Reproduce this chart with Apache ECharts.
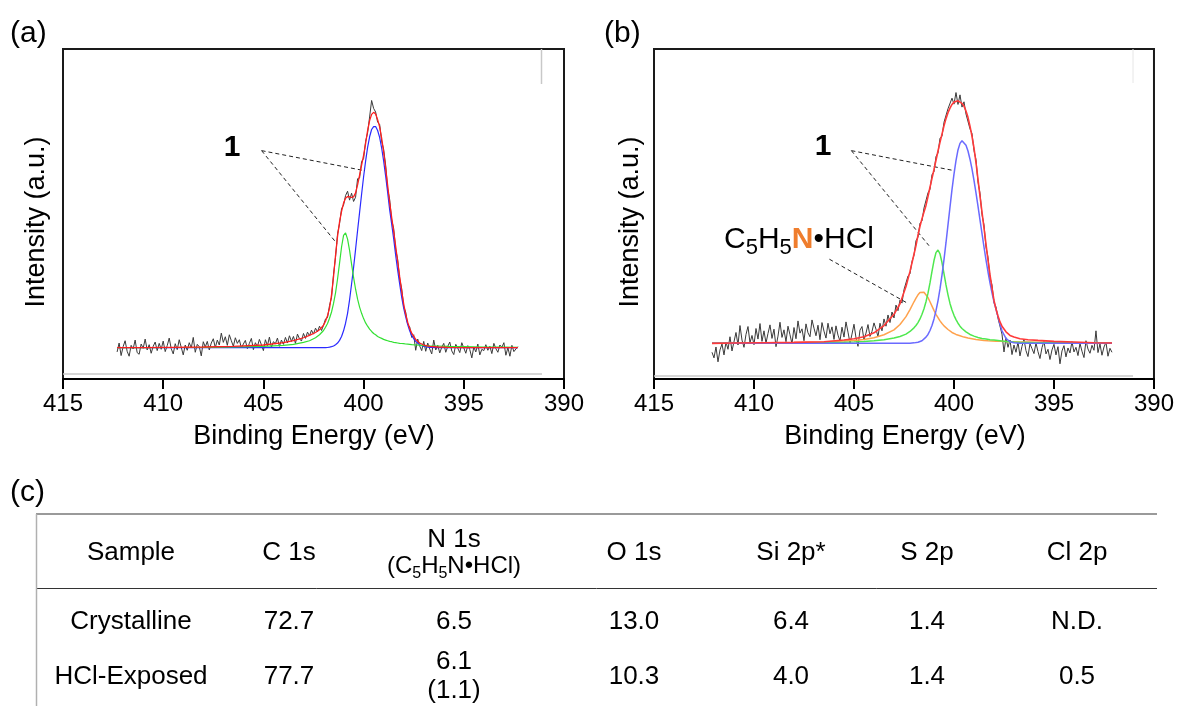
<!DOCTYPE html>
<html><head><meta charset="utf-8">
<script src="https://cdn.jsdelivr.net/npm/echarts/dist/echarts.min.js"></script>
<style>html,body{margin:0;padding:0;background:#fff}#c{width:1177px;height:706px}</style>
</head><body><div id="c"></div>
<script>
// ---------------- DATA ----------------
// x axis ticks (binding energy, eV)
const tickMin = 390, tickMax = 415, tickStep = 5;

// (a) raw spectrum: energies start at 412.3 eV, step 0.1 eV (decreasing)
const rawStartA = 412.3, rawStepA = 0.1;
const rawA = [
 8.2,10.9,7.1,9.8,11.6,8.4,6.9,10.2,9.1,11.8,8.0,7.5,10.6,9.3,12.1,8.8,10.4,7.8,9.9,11.2,8.6,10.8,9.0,11.5,
 8.3,10.1,12.4,9.2,7.6,10.7,8.9,11.9,9.6,7.3,10.3,8.7,11.0,9.4,12.6,8.1,10.5,9.8,7.0,11.3,
 9.7,11.4,8.8,10.9,12.2,9.5,11.8,10.3,13.9,11.1,12.8,10.2,13.4,11.6,9.9,12.5,10.8,11.9,9.4,10.6,
 11.7,9.2,10.8,12.3,8.9,11.0,9.8,12.0,10.4,8.6,11.9,10.1,12.7,9.6,11.3,10.7,12.4,9.9,11.8,10.5,
 12.6,10.9,13.1,11.4,12.9,10.8,13.6,12.2,11.5,13.8,
 12.3,14.2,13.1,14.8,13.6,15.4,14.3,16.0,14.7,16.3,
 18.2,18.6,22.3,24.7,31.8,36.9,44.0,47.1,51.6,52.7,
 55.6,56.9,54.2,56.3,53.8,55.1,60.7,60.9,65.9,66.8,
 72.0,74.6,79.4,84.4,82.0,80.9,77.8,77.2,72.1,69.6,
 64.8,57.6,54.4,48.2,45.6,39.3,36.2,30.3,27.4,21.9,
 20.3,16.5,15.8,12.6,13.4,8.7,12.1,10.0,8.6,11.4,
 8.4,10.9,9.1,7.6,11.8,8.8,10.2,7.9,9.6,10.8,
 8.1,9.9,11.2,8.5,7.4,10.5,9.3,8.0,11.0,9.4,
 7.8,10.1,8.9,6.4,9.7,8.2,10.6,7.3,9.0,8.6,
 10.4,8.7,9.9,7.7,10.8,9.2,8.1,10.3,9.6,11.0,
 7.2,9.5,6.9,10.2,8.3,9.1,9.8
];

// (a) fitted curves, sampled at these energies
const fitXA = [412.3,411,409.5,408,406.5,405,404,403.5,403.0,402.7,402.4,402.2,
 402.0,401.9,401.8,401.7,401.6,401.5,401.4,401.3,401.2,401.1,401.0,400.9,400.8,400.7,400.6,400.5,400.4,400.3,400.2,400.1,
 400.0,399.9,399.8,399.7,399.6,399.5,399.4,399.3,399.2,399.1,399.0,398.9,398.8,398.7,398.6,398.5,398.4,398.3,398.2,398.1,
 398.0,397.9,397.8,397.7,397.6,
 397.4,397.2,397.0,396.7,396.3,395.8,395.0,394.0,393.0,392.3];
const envelopeA = [9.5,9.5,9.6,9.7,9.9,10.3,11.0,11.6,12.5,13.2,14.1,14.9,
 16.3,17.5,19.2,21.5,25.5,31.0,37.5,43.2,47.6,50.8,53.3,54.8,55.3,55.2,55.0,55.2,56.4,58.8,61.8,64.8,
 67.8,71.3,75.3,78.3,80.2,80.8,80.3,78.6,76.4,73.0,68.8,63.9,58.7,53.5,49.0,44.8,40.2,35.6,31.0,26.7,
 22.8,19.6,17.2,15.3,13.9,
 12.0,10.9,10.3,9.9,9.7,9.6,9.5,9.5,9.5,9.5];
const peak1MainA = [9.5,9.5,9.5,9.5,9.5,9.5,9.5,9.5,9.5,9.5,9.5,9.5,
 9.5,9.5,9.55,9.65,9.8,10.0,10.4,10.9,11.7,12.9,14.6,16.9,19.9,24.0,28.8,33.8,39.3,45.0,50.5,56.0,
 61.3,66.0,70.2,73.4,75.6,76.5,76.5,75.3,73.2,70.0,66.1,61.5,56.5,51.3,47.0,42.5,37.5,33.0,28.8,24.8,
 21.5,18.8,16.5,14.6,13.1,
 11.4,10.4,9.9,9.6,9.5,9.5,9.5,9.5,9.5,9.5];
const peak1SecondA = [9.5,9.5,9.55,9.6,9.7,9.9,10.2,10.5,11.1,11.6,12.5,13.4,
 14.7,15.7,16.8,18.4,20.3,22.9,26.1,30.3,35.1,40.0,43.5,44.3,42.4,39.0,34.8,30.8,27.2,24.2,21.8,19.9,
 18.3,17.0,16.0,15.1,14.4,13.8,13.4,12.9,12.6,12.3,12.0,11.8,11.6,11.4,11.3,11.1,11.0,10.9,10.8,10.75,
 10.7,10.6,10.55,10.5,10.4,
 10.3,10.25,10.1,10.05,10.0,9.9,9.8,9.7,9.7,9.6];

// (b) raw spectrum: energies start at 412.1 eV, step 0.1 eV (decreasing)
const rawStartB = 412.1, rawStepB = 0.1;
const rawB = [
 8.1,6.4,9.7,5.2,8.8,10.6,7.3,11.2,9.0,12.8,8.5,7.9,14.1,10.3,16.2,11.8,9.6,13.5,15.9,11.0,13.2,10.4,
 15.3,12.1,16.8,11.4,14.6,10.9,13.8,16.4,12.3,15.1,9.8,13.0,17.2,12.6,14.9,11.3,16.0,13.4,10.7,15.6,
 12.2,17.6,13.9,15.2,11.6,16.7,14.0,12.8,17.9,15.4,13.1,16.3,11.9,17.1,14.5,12.4,16.9,13.7,15.8,12.0,
 16.1,13.3,11.5,15.7,12.7,17.3,14.2,10.9,13.6,16.6,12.5,9.9,14.8,15.9,11.8,13.9,16.5,12.9,14.4,17.0,
 15.1,12.8,16.9,14.6,18.2,16.0,19.4,17.1,20.3,18.5,
 22.4,20.7,23.9,23.0,27.1,26.8,31.2,31.9,35.6,37.5,
 41.9,43.0,47.2,47.9,51.8,52.0,56.4,57.5,61.9,62.8,
 67.4,68.5,72.9,73.6,77.8,78.2,81.9,81.4,85.1,83.3,
 86.8,83.2,86.1,82.4,84.0,80.3,80.5,75.8,74.4,69.2,
 66.5,59.7,56.3,49.8,46.7,40.0,36.9,30.8,28.5,23.1,
 21.8,18.4,17.9,13.6,8.2,12.5,9.6,11.8,7.4,10.3,
 8.1,11.2,7.0,9.9,12.0,8.6,6.8,10.7,9.2,7.7,
 10.9,8.3,6.2,9.5,11.4,7.6,9.0,5.9,8.8,10.5,
 7.3,9.8,4.6,8.5,10.1,6.7,9.4,7.9,11.3,8.2,
 9.6,7.1,10.8,8.4,6.5,11.6,9.1,7.8,10.2,8.7,
 14.6,8.0,10.6,7.2,9.7,11.1,6.9,9.3,8.1
];

// (b) fitted curves
const fitXB = [412.1,411,409.5,408,406.5,405.5,405,404.5,404,403.5,403.0,402.7,402.4,402.2,
 402.0,401.9,401.8,401.7,401.6,401.5,401.4,401.3,401.2,401.1,401.0,400.9,400.8,400.7,400.6,400.5,400.4,400.3,400.2,400.1,
 400.0,399.9,399.8,399.7,399.6,399.5,399.4,399.3,399.2,399.1,399.0,398.9,398.8,398.7,398.6,398.5,398.4,398.3,398.2,398.1,
 398.0,397.9,397.8,397.7,397.6,
 397.4,397.2,397.0,396.7,396.3,395.8,395.0,394.0,393.0,392.1];
const envelopeB = [10.8,10.9,11.0,11.1,11.3,11.8,12.2,12.8,14.0,16.2,19.6,22.8,28.0,32.6,
 37.8,40.4,43.6,46.3,48.6,50.6,52.6,55.3,58.1,60.8,63.5,66.3,69.1,71.7,74.2,76.7,78.9,80.7,82.1,83.2,
 83.9,84.3,84.3,84.0,83.5,82.7,81.2,79.3,76.6,73.5,70.0,65.6,60.5,55.4,50.6,45.8,40.9,36.0,31.6,27.6,
 23.8,21.2,19.1,17.3,16.0,
 14.3,13.2,12.7,12.2,11.9,11.7,11.4,11.2,11.0,10.9];
const peak1MainB = [10.8,10.8,10.8,10.8,10.8,10.8,10.8,10.8,10.8,10.8,10.8,10.8,10.8,10.85,
 10.95,11.0,11.15,11.3,11.6,12.1,12.7,13.5,14.7,16.2,18.2,20.7,23.7,27.3,31.5,36.2,41.3,46.7,52.1,57.4,
 62.1,66.2,69.4,71.4,72.2,71.9,70.8,69.1,66.6,63.7,60.2,56.4,52.4,48.2,44.1,40.0,36.1,32.5,29.1,26.1,
 23.4,21.1,18.9,16.6,14.6,
 12.3,11.3,11.0,10.85,10.8,10.8,10.8,10.8,10.8,10.8];
const peak1SecondB = [10.85,10.85,10.9,10.95,11.05,11.15,11.25,11.4,11.6,11.9,12.4,12.9,13.6,14.4,
 15.5,16.2,17.1,18.2,19.6,21.3,23.4,26.0,29.1,32.6,35.9,38.3,39.1,37.9,35.3,31.9,28.5,25.5,22.9,20.9,
 19.3,18.0,16.9,16.0,15.3,14.8,14.3,13.9,13.5,13.3,13.0,12.8,12.6,12.5,12.3,12.2,12.1,12.0,11.9,11.85,
 11.8,11.7,11.65,11.6,11.5,
 11.4,11.3,11.2,11.1,11.05,11.0,10.95,10.9,10.85,10.85];
const saltB = [10.9,10.92,10.97,11.05,11.25,11.5,11.7,12.0,12.5,13.4,14.9,16.5,18.9,21.05,
 23.4,24.5,25.5,26.2,26.5,26.3,25.7,24.7,23.4,22.1,20.8,19.6,18.6,17.6,16.8,16.1,15.5,15.0,14.5,14.1,
 13.8,13.5,13.3,13.1,12.9,12.7,12.5,12.4,12.3,12.2,12.1,12.0,11.9,11.85,11.8,11.7,11.65,11.6,11.57,11.54,
 11.5,11.47,11.45,11.42,11.4,
 11.36,11.32,11.29,11.25,11.2,11.15,11.1,11.0,10.95,10.95];

// table (c)
const tableHead = ['Sample','C 1s','N 1s','O 1s','Si 2p*','S 2p','Cl 2p'];
const rowCrystalline = ['Crystalline','72.7','6.5','13.0','6.4','1.4','N.D.'];
const rowExposed = ['HCl-Exposed','77.7','6.1','10.3','4.0','1.4','0.5'];
const rowExposedSaltN = '(1.1)';

// ---------------- LAYOUT / STYLE ----------------
const FF = '"Liberation Sans", Arial, Helvetica, sans-serif';
const mctx = document.createElement('canvas').getContext('2d');
function tw(t, s, w){ mctx.font = (w||'normal') + ' ' + s + 'px ' + FF; return mctx.measureText(t).width; }
function txt(t, x, y, s, opt){
  opt = opt || {};
  return {type:'text', x:x, y:y, rotation:opt.rot||0, z:100,
    style:{text:t, font:(opt.w||'normal')+' '+s+'px '+FF, fill:opt.c||'#000',
      textAlign:opt.a||'center', align:opt.a||'center', textVerticalAlign:'middle', verticalAlign:'middle'}};
}
// sequence of text pieces placed on a common baseline
function seq(list, x0, base, align){
  let total = 0; list.forEach(p=>{ total += tw(p.t,p.s,p.w); });
  let x = align==='center' ? x0 - total/2 : x0;
  return list.map(p=>{
    const el = txt(p.t, x, base + (p.dy||0) - 0.3465*p.s, p.s, {a:'left', w:p.w, c:p.c});
    x += tw(p.t,p.s,p.w); return el;
  });
}
const line = (x1,y1,x2,y2,c,w)=>({type:'line', z:50, shape:{x1,y1,x2,y2}, style:{stroke:c, lineWidth:w}});

const pairs = (xs, ys)=>xs.map((x,i)=>[x, ys[i]]);
const rawPairs = (start, step, ys)=>ys.map((v,i)=>[Math.round((start - step*i)*100)/100, v]);

function xAxisOf(gi){
  return {type:'value', gridIndex:gi, min:tickMin, max:tickMax, interval:tickStep, inverse:true,
    axisLine:{show:true, onZero:false, lineStyle:{color:'#000', width:2}},
    axisTick:{show:true, inside:false, length:10, lineStyle:{color:'#000', width:2}},
    axisLabel:{fontSize:24, color:'#000', margin:13, fontFamily:FF},
    splitLine:{show:false}};
}
function yAxisOf(gi){
  return {type:'value', gridIndex:gi, min:0, max:100, axisLine:{show:false}, axisTick:{show:false},
    axisLabel:{show:false}, splitLine:{show:false}};
}
function lineSeries(gi, data, color, width, z, extra){
  return Object.assign({type:'line', xAxisIndex:gi, yAxisIndex:gi, data:data, symbol:'none', showSymbol:false,
    smooth:false, silent:true, z:z, lineStyle:{color:color, width:width}}, extra||{});
}
const dashStyle = {color:'#222', width:1, type:[4,3]};
function leaders(pairsList){
  return {markLine:{silent:true, symbol:['none','none'], animation:false, label:{show:false},
    lineStyle:dashStyle, emphasis:{disabled:true},
    data:pairsList.map(p=>[{coord:p[0]},{coord:p[1]}])}};
}
// annotation leader lines, in data units (eV, intensity)
const leadA = [[[405.09,69.2],[399.93,63.1]], [[405.09,69.2],[401.34,41.1]]];
const leadB = [[[405.13,69.2],[399.95,63.1]], [[405.13,69.2],[401.25,40.4]], [[406.23,36.3],[402.39,23.2]]];

const graphics = [];
// panel letters
graphics.push(txt('(a)', 10, 33.5, 30, {a:'left'}));
graphics.push(txt('(b)', 604, 33.5, 30, {a:'left'}));
graphics.push(txt('(c)', 10, 493, 30, {a:'left'}));
// axis titles
graphics.push(txt('Binding Energy (eV)', 314, 437, 27));
graphics.push(txt('Binding Energy (eV)', 905, 437, 27));
graphics.push(txt('Intensity (a.u.)', 37, 222, 27, {rot:Math.PI/2}));
graphics.push(txt('Intensity (a.u.)', 631, 222, 27, {rot:Math.PI/2}));
// "1" labels
graphics.push(txt('1', 232, 147.5, 30, {w:'bold'}));
graphics.push(txt('1', 823, 147, 30, {w:'bold'}));
// C5H5N•HCl label
seq([{t:'C',s:30},{t:'5',s:22,dy:6},{t:'H',s:30},{t:'5',s:22,dy:6},{t:'N',s:30,w:'bold',c:'#ef7d2d'},{t:'\u2022HCl',s:30}],
    724, 250, 'left').forEach(e=>graphics.push(e));
// faint frame artifacts
graphics.push(line(63,374,542,374,'#c8c8c8',1.5));
graphics.push(line(541.5,49,541.5,84,'#c8c8c8',1.5));
graphics.push(line(654,376,1133,376,'#c8c8c8',1.5));
graphics.push(line(1133,49,1133,83,'#e6e6e6',1));

// table
const colX = [131, 289, 454, 634, 791, 927, 1077];
const TS = 26;
graphics.push(line(36,514,1157,514,'#9a9a9a',2));
graphics.push(line(36,588.5,1157,588.5,'#333',1));
graphics.push(line(36.5,514,36.5,706,'#b0b0b0',1.5));
tableHead.forEach((h,i)=>{
  if (i===2) graphics.push(txt(h, colX[i], 540, TS));
  else graphics.push(txt(h, colX[i], 553, TS));
});
seq([{t:'(C',s:24},{t:'5',s:16,dy:4},{t:'H',s:24},{t:'5',s:16,dy:4},{t:'N\u2022HCl)',s:24}], colX[2], 575, 'center').forEach(e=>graphics.push(e));
rowCrystalline.forEach((v,i)=>graphics.push(txt(v, colX[i], 622, TS)));
rowExposed.forEach((v,i)=>{
  if (i===2) graphics.push(txt(v, colX[i], 662, TS));
  else graphics.push(txt(v, colX[i], 677, TS));
});
graphics.push(txt(rowExposedSaltN, colX[2], 691, TS));

const option = {
  backgroundColor:'#fff',
  animation:false,
  grid:[
    {left:63, top:49, width:501, height:330, show:true, borderColor:'#1a1a1a', borderWidth:2, backgroundColor:'transparent'},
    {left:654, top:49, width:502, height:330, show:true, borderColor:'#1a1a1a', borderWidth:2, backgroundColor:'transparent'}
  ],
  xAxis:[xAxisOf(0), xAxisOf(1)],
  yAxis:[yAxisOf(0), yAxisOf(1)],
  series:[
    lineSeries(0, rawPairs(rawStartA, rawStepA, rawA), '#3a3a3a', 1, 2),
    lineSeries(0, pairs(fitXA, peak1MainA), '#2a2aff', 1.2, 3),
    lineSeries(0, pairs(fitXA, peak1SecondA), '#33e033', 1.2, 4),
    lineSeries(0, pairs(fitXA, envelopeA), '#ff1f1f', 1.3, 5, leaders(leadA)),
    lineSeries(1, rawPairs(rawStartB, rawStepB, rawB), '#3a3a3a', 1, 2),
    lineSeries(1, pairs(fitXB, saltB), '#ffa24d', 1.5, 3),
    lineSeries(1, pairs(fitXB, peak1SecondB), '#4fe84f', 1.5, 4),
    lineSeries(1, pairs(fitXB, peak1MainB), '#6a6aff', 1.5, 5),
    lineSeries(1, pairs(fitXB, envelopeB), '#ff3a3a', 1.6, 6, leaders(leadB))
  ],
  graphic:{elements:graphics}
};
const chart = echarts.init(document.getElementById('c'), null, {renderer:'canvas'});
chart.setOption(option);
</script></body></html>
